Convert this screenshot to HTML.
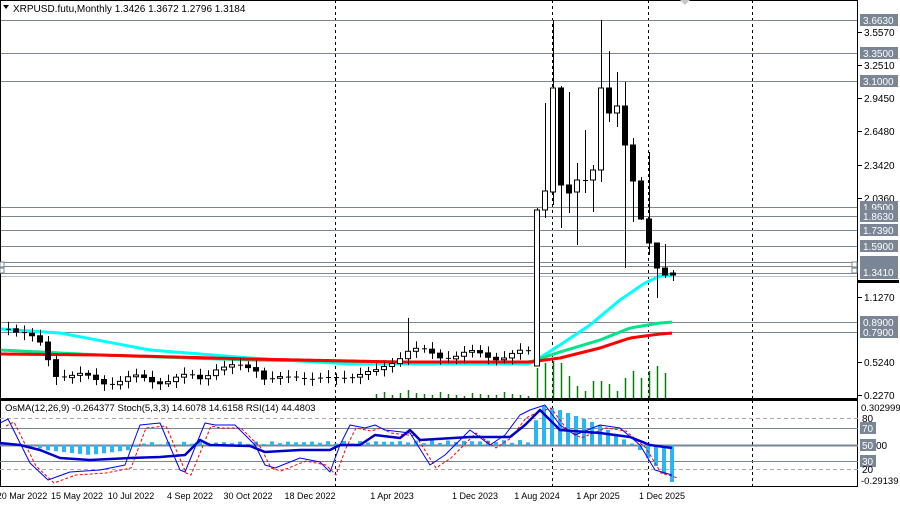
<!DOCTYPE html>
<html><head><meta charset="utf-8">
<style>
html,body{margin:0;padding:0;background:#fff;}
svg{display:block;font-family:"Liberation Sans",sans-serif;}
</style></head><body>
<svg id="c" width="900" height="507" xmlns="http://www.w3.org/2000/svg">
<rect width="900" height="507" fill="#fff"/>
<g id="g"></g>
</svg>
<script>
(function(){
var S='';
function L(x1,y1,x2,y2,c,w,d){S+='<line x1="'+x1+'" y1="'+y1+'" x2="'+x2+'" y2="'+y2+'" stroke="'+c+'" stroke-width="'+(w||1)+'"'+(d?' stroke-dasharray="'+d+'"':'')+'/>';}
function R(x,y,w,h,f,s){S+='<rect x="'+x+'" y="'+y+'" width="'+w+'" height="'+h+'" fill="'+f+'"'+(s?' stroke="'+s+'" stroke-width="1"':'')+'/>';}
function T(x,y,t,c,sz,a){S+='<text x="'+x+'" y="'+y+'" font-size="'+(sz||10)+'" fill="'+(c||'#000')+'"'+(a?' text-anchor="'+a+'"':'')+'>'+t+'</text>';}
function P(pts,c,w,d){S+='<polyline fill="none" points="'+pts.map(function(p){return p.join(',');}).join(' ')+'" stroke="'+c+'" stroke-width="'+w+'"'+(d?' stroke-dasharray="'+d+'"':'')+' stroke-linejoin="round"/>';}
function interp(k,x){for(var i=0;i<k.length-1;i++){if(x>=k[i][0]&&x<=k[i+1][0]){var t=(x-k[i][0])/(k[i+1][0]-k[i][0]);return k[i][1]+t*(k[i+1][1]-k[i][1]);}}return x<k[0][0]?k[0][1]:k[k.length-1][1];}
function smooth(k,step){var a=[];for(var x=k[0][0];x<=k[k.length-1][0];x+=step)a.push([x,interp(k,x)]);return a;}
[335,552,648,752].forEach(function(x){L(x+.5,0,x+.5,398,'#000',1,'3,3');L(x+.5,400,x+.5,486,'#000',1,'3,3');});
var lv=[[20,'3.6630'],[53,'3.3500'],[81,'3.1000'],[207,'1.9500'],[216,'1.8630'],[230,'1.7390'],[246,'1.5900'],[262,''],[266,''],[273,'1.3410'],[322,'0.8900'],[332,'0.7900']];
lv.forEach(function(l){L(0,l[0]+.5,858,l[0]+.5,'#7a8595',1);});
L(0,276.5,858,276.5,'#c0c0c0',1);
var vol=[[376,4],[384,6],[392,3],[400,5],[408,8],[416,5],[424,4],[432,3],[440,6],[448,4],[456,3],[464,2],[472,5],[480,4],[488,3],[496,3],[504,6],[512,4],[520,3],[528,2],[537,30],[545,35],[553,37],[561,35],[569,22],[577,12],[585,7],[593,17],[601,17],[609,14],[617,7],[625,20],[633,27],[641,20],[649,27],[657,32],[665,25]];
vol.forEach(function(v){L(v[0]+.5,398-v[1],v[0]+.5,398,'#008000',1.5);});
P(smooth([[0,329],[60,333],[150,350],[250,358],[350,364],[450,364],[530,364],[560,345],[590,325],[620,300],[645,283],[660,276],[673,275]],4),'#00ffff',3);
P(smooth([[0,350],[100,355],[250,360],[400,362],[530,362],[560,352],[600,340],[630,328],[660,323],[673,322]],4),'#00e58a',3);
P(smooth([[0,354],[100,355],[250,359],[400,362],[530,362],[560,358],[600,348],[630,338],[660,334],[673,333]],4),'#ff0000',3);
function candle(x,o,c,hi,lo){L(x+.5,hi,x+.5,lo,'#000',1);var tp=Math.min(o,c),bt=Math.max(o,c);
 if(bt-tp<1.5)L(x-2,tp+.5,x+3,tp+.5,'#000',1);else if(c<o)R(x-2.5,tp,5,bt-tp,'#fff','#000');else R(x-2.5,tp,5,bt-tp,'#000','#000');}
var kc=[[8,325],[40,345],[56,372],[90,380],[130,380],[200,378],[215,367],[255,368],[265,378],[340,378],[375,372],[410,350],[440,355],[530,355]];
var prev=330;
for(var x=8;x<=529;x+=8){var n=Math.sin(x*1.7)*3+Math.cos(x*0.9)*2;var c=interp(kc,x)+n;var o=prev;prev=c;
 var tp=Math.min(o,c),bt=Math.max(o,c);var hi=tp-3-Math.abs(Math.sin(x))*4,lo=bt+3+Math.abs(Math.cos(x*1.3))*4;
 if(x==408)hi=318; if(x==56)lo=385;
 candle(x,o,c,hi,lo);}
var big=[[537,366,210,208,366],[545,210,191,103,218],[553,192,88,20,205],[561,88,185,86,228],[569,185,193,92,213],[577,192,180,163,245],[585,180,180,130,193],[593,180,170,165,212],[601,170,88,20,182],[609,88,113,51,122],[617,113,106,72,127],[625,106,145,82,268],[633,145,181,138,222],[641,181,219,177,220],[649,219,243,152,255],[657,243,268,243,298],[665,268,275,244,278],[673,273,275,270,281]];
big.forEach(function(b){candle(b[0],b[1],b[2],b[3],b[4]);});
R(0.5,0.5,857,398,'none','#000');
L(0,399.5,858,399.5,'#000',1);
R(0.5,400.5,857,86,'none','#000');
R(858,280,41,3,'#000');
var tk=[[32,'3.5570'],[65,'3.2510'],[98,'2.9450'],[131,'2.6480'],[165,'2.3420'],[198,'2.0360'],[297,'1.1270'],[362,'0.5240'],[395,'0.2270']];
tk.forEach(function(t){L(858,t[0]+.5,862,t[0]+.5,'#000',1);T(864,t[0]+4,t[1]);});
lv.forEach(function(l){if(l[1]){R(860,l[0]-6,38,12,'#7a8595');T(863,l[0]+4,l[1],'#fff');}});
R(860,256,38,8,'#7a8595');R(860,263,38,7,'#7a8595');R(860,267,38,12,'#7a8595');T(863,276,'1.3410','#fff');
S+='<rect x="852" y="262" width="5" height="5" fill="#fff" stroke="#7a8595"/><rect x="852" y="268" width="5" height="5" fill="#fff" stroke="#7a8595"/>';
S+='<rect x="0" y="262" width="4" height="5" fill="#fff" stroke="#7a8595"/><rect x="0" y="268" width="4" height="5" fill="#fff" stroke="#7a8595"/>';
S+='<polygon points="3,5 9,5 6,9" fill="#000"/>';
T(13,12,'XRPUSD.futu,Monthly  1.3426 1.3672 1.2796 1.3184','#000',10);
S+='<polygon points="680,0 690,0 685,5" fill="#c8c8c8"/>';
L(0,418.5,858,418.5,'#aaa',1,'4,3');L(0,469.5,858,469.5,'#aaa',1,'4,3');
L(0,428.5,858,428.5,'#7a8595',1);L(0,445.5,858,445.5,'#7a8595',2);L(0,461.5,858,461.5,'#7a8595',1);
var hk=[[0,445],[30,445],[45,450],[90,455],[130,450],[140,445],[530,443],[540,405],[560,410],[600,425],[625,440],[635,445],[645,455],[660,470],[672,482]];
for(var x2=8;x2<=672;x2+=8){var y=interp(hk,x2)+(x2<530&&x2>140?-Math.abs(Math.sin(x2))*3:0);var t1=Math.min(445,y),b1=Math.max(445,y);if(b1-t1>0.5)R(x2-2,t1,4,b1-t1,'#29b6f6');}
var stoch=[[0,423],[8,419],[30,463],[48,480],[70,472],[100,470],[125,465],[140,425],[160,423],[180,470],[185,472],[205,423],[215,425],[235,425],[255,445],[265,465],[275,468],[300,458],[320,462],[330,472],[340,445],[350,425],[365,428],[375,425],[385,430],[410,433],[430,465],[445,455],[470,430],[490,445],[505,435],[520,415],[530,410],[545,405],[560,425],[575,435],[600,425],[620,428],[640,445],[655,470],[672,475]];
var sig=stoch.map(function(p){return [p[0]+6,p[1]+3];});
P(sig,'#ff0000',1,'3,2');
P(stoch,'#0000ff',1);
P([[0,443],[20,445],[40,450],[60,458],[90,460],[130,458],[160,457],[185,455],[200,440],[210,445],[250,446],[265,452],[300,450],[330,450],[340,445],[360,445],[375,435],[400,438],[410,430],[420,440],[470,437],[510,437],[525,425],[540,410],[560,430],[600,433],[630,437],[650,445],[672,448]],'#0000cc',2.5);
T(5,411,'OsMA(12,26,9) -0.264377  Stoch(5,3,3) 14.6078 14.6158  RSI(14) 44.4803','#000',9.5);
T(861,411,'0.302999','#000',9.5);
[[428,'70'],[445,'50'],[461,'30']].forEach(function(l){R(860,l[0]-6,16,12,'#7a8595');T(862,l[0]+4,l[1],'#fff');});
T(862,422,'80');T(876,449,'00');T(862,473,'20');T(861,484,'-0.29139','#000',9.5);
var d=[[22,'20 Mar 2022'],[77,'15 May 2022'],[131,'10 Jul 2022'],[190,'4 Sep 2022'],[248,'30 Oct 2022'],[310,'18 Dec 2022'],[392,'1 Apr 2023'],[475,'1 Dec 2023'],[537,'1 Aug 2024'],[598,'1 Apr 2025'],[662,'1 Dec 2025']];
d.forEach(function(t){T(t[0],499,t[1],'#000',9,'middle');});
document.getElementById('g').innerHTML=S;
})();
</script>
</body></html>
